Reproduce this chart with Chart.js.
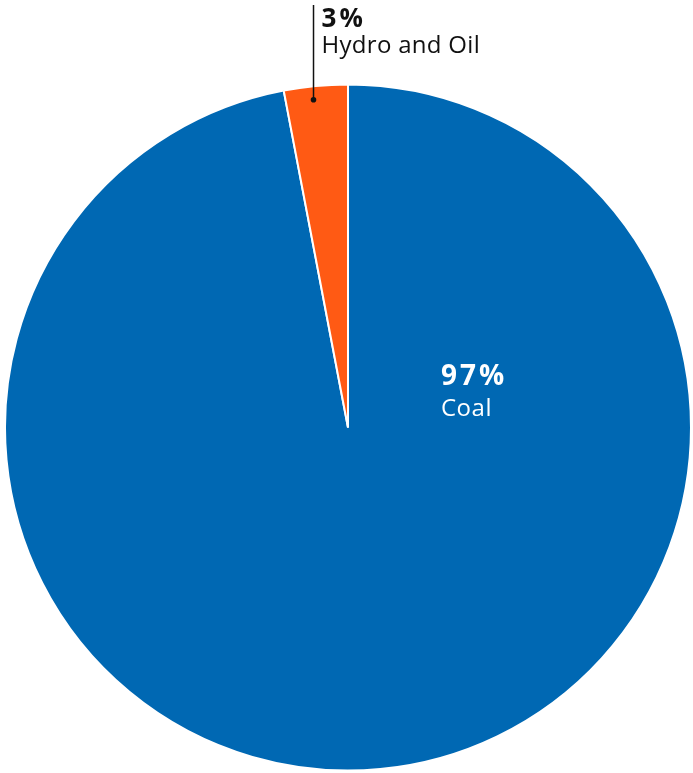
<!DOCTYPE html>
<html>
<head>
<meta charset="utf-8">
<script src="https://cdn.jsdelivr.net/npm/chart.js@4"></script>
<style>
  html, body { margin: 0; padding: 0; background: #fff; }
  #wrap { width: 693px; height: 773px; position: relative; }
</style>
</head>
<body>
<div id="wrap"><canvas id="c"></canvas></div>
<script>
'use strict';

const labels = ['Coal', 'Hydro and Oil'];
const values = [97, 3];
const colors = ['#0068b3', '#ff5a14'];

const FONT = '"Open Sans", "Noto Sans", sans-serif';

// Labels: Coal inside the slice, Hydro and Oil above the pie with a leader line.
const sliceLabels = {
  id: 'sliceLabels',
  afterDatasetsDraw(chart) {
    const ctx = chart.ctx;
    const arcs = chart.getDatasetMeta(0).data;
    const total = values.reduce(function (a, b) { return a + b; }, 0);

    // Coal
    const coal = arcs[0];
    ctx.save();
    ctx.fillStyle = '#fff';
    ctx.textAlign = 'left';
    ctx.textBaseline = 'alphabetic';
    ctx.letterSpacing = '3px';
    ctx.font = 'bold 28px ' + FONT;
    ctx.fillText(values[0] + '%', coal.x + 93, coal.y - 43);
    ctx.letterSpacing = '0.5px';
    ctx.font = '24px ' + FONT;
    ctx.fillText(labels[0], coal.x + 93, coal.y - 12);

    // Hydro and Oil
    const h = arcs[1];
    const mid = (h.startAngle + h.endAngle) / 2;
    const r = h.outerRadius * 0.96;
    const px = h.x + Math.cos(mid) * r - 3.5;
    const py = h.y + Math.sin(mid) * r;
    ctx.strokeStyle = '#111';
    ctx.lineWidth = 1.5;
    ctx.beginPath();
    ctx.moveTo(px, py);
    ctx.lineTo(px, 5);
    ctx.stroke();
    ctx.fillStyle = '#111';
    ctx.beginPath();
    ctx.arc(px, py, 2.8, 0, Math.PI * 2);
    ctx.fill();
    ctx.letterSpacing = '3px';
    ctx.font = 'bold 26px ' + FONT;
    ctx.fillText(Math.round(values[1] / total * 100) + '%', px + 8, 27);
    ctx.letterSpacing = '0.3px';
    ctx.font = '24px ' + FONT;
    ctx.fillText(labels[1], px + 8, 53);
    ctx.restore();
  }
};

new Chart(document.getElementById('c'), {
  type: 'pie',
  data: {
    labels: labels,
    datasets: [{
      data: values,
      backgroundColor: colors,
      borderColor: '#fff',
      borderWidth: 2,
    }],
  },
  options: {
    responsive: true,
    maintainAspectRatio: false,
    animation: false,
    layout: { padding: { top: 83, left: 4, right: 1, bottom: 1 } },
    plugins: { legend: { display: false }, tooltip: { enabled: false } },
  },
  plugins: [sliceLabels],
});
</script>
</body>
</html>
